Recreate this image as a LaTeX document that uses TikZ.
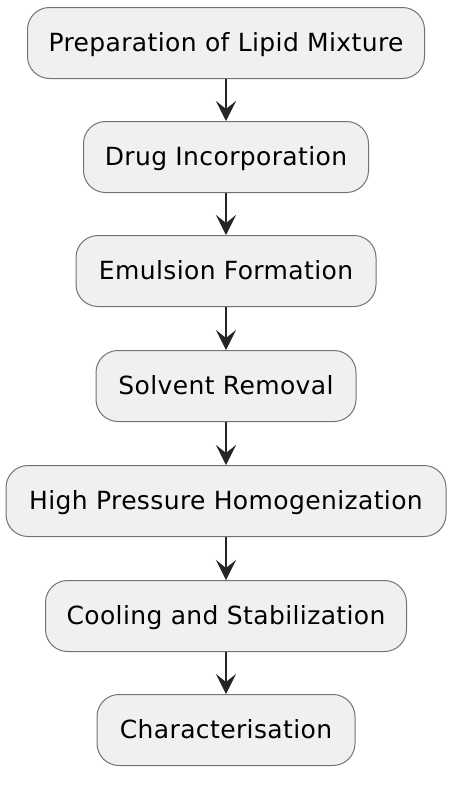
\documentclass[tikz,border=0pt]{standalone}
\usepackage{fontspec}
\setmainfont{DejaVu Sans}[LetterSpace=1.5]
\usetikzlibrary{arrows.meta}
\begin{document}
\begin{tikzpicture}[x=1pt,y=-1pt,
  stepbox/.style={draw=black!55,fill=black!6,line width=1pt,rounded corners=22pt,
    minimum height=71pt,inner sep=0pt,text height=19pt,text depth=3pt,font=\fontsize{25}{28}\selectfont},
  flow/.style={draw=black!85,line width=1.5pt,-{Stealth[length=20pt,width=20pt,inset=8pt]}}]
\useasboundingbox (0,0) rectangle (450,785);
\node[stepbox,minimum width=397pt] (a) at (226,43) {Preparation of Lipid Mixture};
\node[stepbox,minimum width=285pt] (b) at (226,157) {Drug Incorporation};
\node[stepbox,minimum width=300pt] (c) at (226,271) {Emulsion Formation};
\node[stepbox,minimum width=260pt] (d) at (226,386) {Solvent Removal};
\node[stepbox,minimum width=440pt] (e) at (226,501) {High Pressure Homogenization};
\node[stepbox,minimum width=361pt] (f) at (226,616) {Cooling and Stabilization};
\node[stepbox,minimum width=258pt] (g) at (226,730) {Characterisation};
\foreach \p/\q in {a/b,b/c,c/d,d/e,e/f,f/g}{
  \draw[flow] (\p.south) -- (\q.north);
}
\end{tikzpicture}
\end{document}
